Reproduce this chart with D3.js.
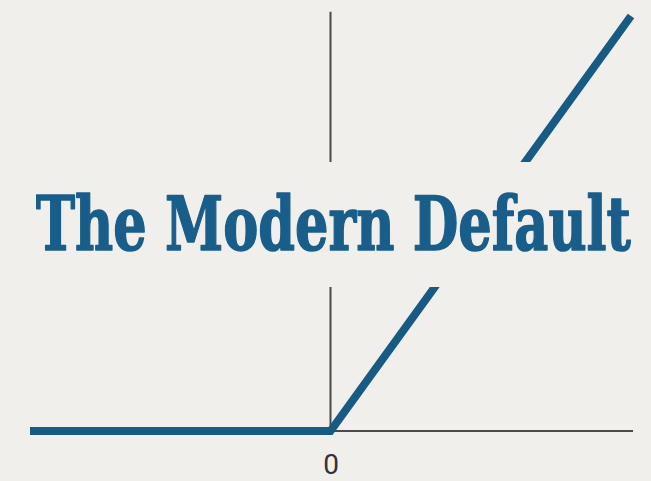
<!DOCTYPE html>
<html>
<head>
<meta charset="utf-8">
<script src="https://cdn.jsdelivr.net/npm/d3@7"></script>
<style>
  html, body { margin: 0; padding: 0; background: #f1efeb; }
  svg { display: block; }
</style>
</head>
<body>
<svg id="chart" width="651" height="481"></svg>
<script>
// ReLU: inputs and outputs
const inputs = [-1, 0, 1];
const outputs = [0, 0, 1];
// Axis extents in data units
const xAxisExtent = [0, 1];
const yAxisExtent = [0, 1.01];
const tickValues = [0];
const title = "The Modern Default";

const W = 651, H = 481;
const bg = "#f1efeb";
const blue = "#175b85";
const axisColor = "#4a4a4a";

const svg = d3.select("#chart");
svg.append("rect").attr("width", W).attr("height", H).attr("fill", bg);

const x = d3.scaleLinear().domain([-1, 1]).range([30, 631]);
const y = d3.scaleLinear().domain([0, 1]).range([431, 16]);

// Thin axes through the origin
svg.append("line")
  .attr("x1", x(xAxisExtent[0])).attr("x2", x(xAxisExtent[1]) + 2)
  .attr("y1", y(0)).attr("y2", y(0))
  .attr("stroke", axisColor).attr("stroke-width", 2);
svg.append("line")
  .attr("x1", x(0)).attr("x2", x(0))
  .attr("y1", y(yAxisExtent[0])).attr("y2", y(yAxisExtent[1]))
  .attr("stroke", axisColor).attr("stroke-width", 2);

// ReLU curve
const line = d3.line().x((d, i) => x(inputs[i])).y(d => y(d));
svg.append("path")
  .datum(outputs)
  .attr("d", line)
  .attr("fill", "none")
  .attr("stroke", blue)
  .attr("stroke-width", 8)
  .attr("stroke-linejoin", "miter")
  .attr("stroke-linecap", "butt");

// Tick label at the origin
const xAxis = d3.axisBottom(x).tickValues(tickValues).tickSize(0).tickPadding(23)
  .tickFormat(d3.format("d"));
const gx = svg.append("g").attr("transform", `translate(0,${y(0)})`).call(xAxis);
gx.select(".domain").remove();
gx.selectAll("text")
  .attr("font-family", "Roboto, 'Liberation Sans', sans-serif")
  .attr("font-size", 28)
  .attr("fill", "#333333");

// Band behind the title
svg.append("rect")
  .attr("x", 0).attr("width", W)
  .attr("y", 162).attr("height", 125)
  .attr("fill", bg);

// Title, squeezed horizontally to span the plot width
const titleWidth = 595;
const titleText = svg.append("text")
  .attr("x", 0).attr("y", 0)
  .attr("font-family", "'DejaVu Serif', serif")
  .attr("font-weight", "bold")
  .attr("font-size", 74)
  .attr("fill", "#195e8a")
  .attr("stroke", "#195e8a")
  .attr("stroke-width", 1.6)
  .attr("stroke-linejoin", "round")
  .text(title);
const natural = titleText.node().getComputedTextLength();
titleText.attr("transform", `translate(36,250) scale(${titleWidth / natural},1)`);
</script>
</body>
</html>
